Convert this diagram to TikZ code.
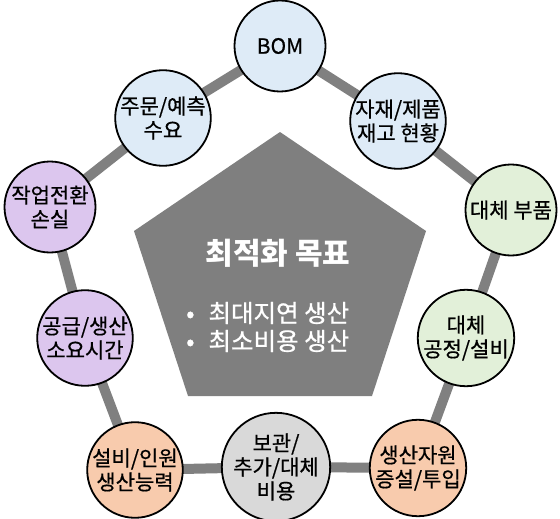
\documentclass[tikz,border=0pt]{standalone}
\usepackage{fontspec}
\setmainfont{Noto Sans CJK KR}
\definecolor{cblue}{HTML}{DEEBF7}
\definecolor{cgreen}{HTML}{E2F0D9}
\definecolor{corange}{HTML}{F8CBAD}
\definecolor{cgray}{HTML}{D9D9D9}
\definecolor{cpurple}{HTML}{DCC6EE}
\definecolor{linegray}{HTML}{808080}
\definecolor{pentgray}{HTML}{7F7F7F}
\begin{document}
\begin{tikzpicture}[x=1pt,y=-1pt,
  bubble/.style={circle,draw=black,line width=1.8pt,minimum size=91pt,inner sep=0pt,
    align=center,font=\fontsize{21}{24}\selectfont\addfontfeature{FakeBold=0.6}},
  link/.style={draw=linegray,line width=10pt},
  goal/.style={text=white,inner sep=0pt}]
\useasboundingbox (0,0) rectangle (560,519);
% pentagon
\fill[pentgray] (280,132) -- (426,231) -- (372,396) -- (188,396) -- (134,231) -- cycle;
\node[goal,font=\bfseries\fontsize{30}{34}\selectfont] (title) at (278,253) {최적화 목표};
\node[goal,anchor=west,font=\fontsize{24.5}{28}\selectfont\addfontfeature{FakeBold=0.8}] (b1) at (186,313) {•\hspace{14pt}최대지연 생산};
\node[goal,anchor=west,font=\fontsize{24.5}{28}\selectfont\addfontfeature{FakeBold=0.8}] (b2) at (186,341) {•\hspace{14pt}최소비용 생산};
% coordinates of circles
\coordinate (pbom) at (280,46);
\coordinate (pinv) at (398,121);
\coordinate (ppart) at (511,210);
\coordinate (pproc) at (466,338);
\coordinate (pres) at (418,468);
\coordinate (pcost) at (276,467);
\coordinate (pcap) at (135,470);
\coordinate (plead) at (85,338);
\coordinate (psetup) at (50,207);
\coordinate (pdem) at (163,118);
% links
\draw[link] (pbom) -- (pinv) -- (ppart) -- (pproc) -- (pres) -- (pcost) -- (pcap) -- (plead) -- (psetup) -- (pdem) -- (pbom);
% circles
\node[bubble,fill=cblue] (bom) at (pbom) {BOM};
\node[bubble,fill=cblue] (inv) at (pinv) {자재/제품\\재고 현황};
\node[bubble,fill=cgreen] (part) at (ppart) {대체 부품};
\node[bubble,fill=cgreen] (proc) at (pproc) {대체\\공정/설비};
\node[bubble,fill=corange] (res) at (pres) {생산자원\\증설/투입};
\node[bubble,fill=cgray] (cost) at (pcost) {보관/\\추가/대체\\비용};
\node[bubble,fill=corange] (cap) at (pcap) {설비/인원\\생산능력};
\node[bubble,fill=cpurple] (lead) at (plead) {공급/생산\\소요시간};
\node[bubble,fill=cpurple] (setup) at (psetup) {작업전환\\손실};
\node[bubble,fill=cblue] (dem) at (pdem) {주문/예측\\수요};
\end{tikzpicture}
\end{document}
